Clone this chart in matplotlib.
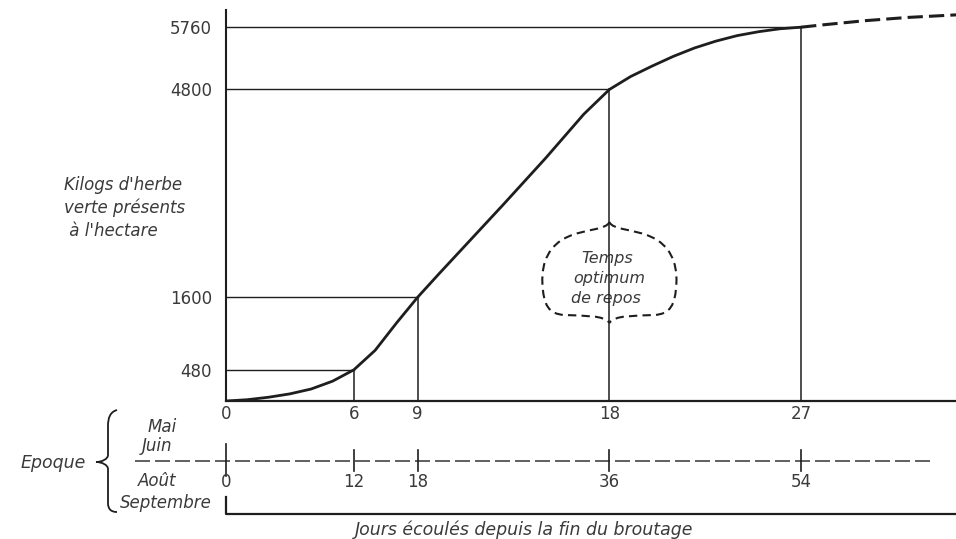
import numpy as np
import matplotlib.pyplot as plt
from matplotlib.path import Path
from matplotlib.patches import PathPatch
from matplotlib import transforms

# values
day_marks = [0, 6, 9, 18, 27]            # Mai / Juin
day_marks_late = [0, 12, 18, 36, 54]     # Aout / Septembre
kg_marks = [480, 1600, 4800, 5760]

curve_days = [0, 1, 2, 3, 4, 5, 6, 7, 8, 9, 10, 13, 15, 16.8, 18,
              19, 20, 21, 22, 23, 24, 25, 26, 27]
curve_kg = [0, 20, 58, 110, 185, 305, 480, 780, 1200, 1600, 1960, 3020, 3740, 4420, 4800,
            5000, 5160, 5310, 5440, 5545, 5630, 5690, 5735, 5760]
trend_days = [27, 28, 30, 32, 34.3]
trend_kg = [5760, 5795, 5860, 5910, 5950]

ink = '#1e1e1e'
txt = '#3a3a3a'
W, H = 956, 539

fig = plt.figure(figsize=(W / 100, H / 100), dpi=100)

# overlay in pixel units for the free-standing annotations
ov = fig.add_axes([0, 0, 1, 1])
ov.set_xlim(0, W)
ov.set_ylim(H, 0)
ov.axis('off')

# main chart area: x from px 226 to right edge, y from baseline (px 401) to top
x0, y0 = 226, 401
px_day, px_kg = 21.3, 0.0649
ax = fig.add_axes([x0 / W, (H - y0) / H, (W - x0) / W, y0 / H])
ax.set_xlim(0, (W - x0) / px_day)
ax.set_ylim(0, y0 / px_kg)
ax.patch.set_alpha(0)
for s in ['top', 'right']:
    ax.spines[s].set_visible(False)
ax.spines['left'].set_bounds(0, 6025)
ax.spines['left'].set_linewidth(1.5)
ax.spines['bottom'].set_linewidth(1.6)
ax.spines['left'].set_color(ink)
ax.spines['bottom'].set_color(ink)

ax.set_yticks(kg_marks)
ax.set_yticklabels([str(k) for k in kg_marks])
ax.set_xticks(day_marks)
ax.set_xticklabels([str(d) for d in day_marks])
ax.tick_params(length=0, labelsize=12, labelcolor=txt)
ax.tick_params(axis='y', pad=10)
ax.tick_params(axis='x', pad=3)

# guide lines
for d, k in zip(day_marks[1:], kg_marks):
    ax.plot([0, d], [k, k], color=ink, lw=1.0)
    ax.plot([d, d], [0, k], color=ink, lw=1.1, zorder=3)

ax.plot(curve_days, curve_kg, color=ink, lw=2.0, solid_capstyle='round', zorder=4)
ax.plot(trend_days, trend_kg, color=ink, lw=2.2, ls=(0, (5, 2)), clip_on=False)

ov.text(64, 208, "Kilogs d'herbe\nverte présents\n à l'hectare", style='italic',
        fontsize=12, color=txt, ha='left', va='center', linespacing=1.3)

# "Temps optimum de repos" bubble around the 18-day line
cx = ov.transData.inverted().transform(ax.transData.transform((18, 0)))[0]
half = [(0, 222), (-3, 230), (-25, 229), (-42, 237),
        (-60, 245), (-68, 262), (-67, 283),
        (-66, 305), (-61, 314), (-45, 315),
        (-25, 316), (-5, 315), (0, 323)]
codes = [Path.MOVETO] + [Path.CURVE4] * 12
for sgn in (-1, 1):
    verts = [(cx + sgn * dx, yy) for dx, yy in half]
    ov.add_patch(PathPatch(Path(verts, codes), fill=False, ec=ink, lw=1.5,
                           ls=(0, (4, 2.5))))
ov.text(cx - 2, 259, 'Temps', style='italic', fontsize=11.5, color=txt, ha='center', va='center')
ov.text(cx, 279, 'optimum', style='italic', fontsize=11.5, color=txt, ha='center', va='center')
ov.text(cx - 3, 299, 'de repos', style='italic', fontsize=11.5, color=txt, ha='center', va='center')

# second time scale (Aout / Septembre) below the chart
blend = transforms.blended_transform_factory(ax.transData, ov.transData)
ov.plot([135, 930], [461, 461], color='#444444', lw=1.2, ls=(0, (9, 3)))
for i, (d, d2) in enumerate(zip(day_marks, day_marks_late)):
    top, bot = (444, 476) if i == 0 else (450, 471)
    ax.plot([d, d], [top, bot], color=ink, lw=1.2, transform=blend, clip_on=False)
    ax.text(d, 482, str(d2), transform=blend, fontsize=12, color=txt,
            ha='center', va='center')

ov.plot([x0, x0, W], [497, 514, 514], color=ink, lw=1.6)
ov.text(524, 530, 'Jours écoulés depuis la fin du broutage', style='italic',
        fontsize=12.5, color=txt, ha='center', va='center')

for s, x, y in [('Mai', 162, 427), ('Juin', 157, 446), ('Août', 157, 481),
                ('Septembre', 166, 503)]:
    ov.text(x, y, s, style='italic', fontsize=12, color=txt, ha='center', va='center')
ov.text(53, 463, 'Epoque', style='italic', fontsize=12.5, color=txt, ha='center', va='center')

brace = [(117, 410), (110, 412), (108, 418), (108, 426),
         (108, 440), (108, 450), (108, 455),
         (108, 459), (102, 462), (96, 462),
         (102, 462), (108, 465), (108, 469),
         (108, 480), (108, 495), (108, 503),
         (108, 509), (111, 512), (117, 512)]
bcodes = [Path.MOVETO] + [Path.CURVE4] * 18
ov.add_patch(PathPatch(Path(brace, bcodes), fill=False, ec=ink, lw=1.3))

fig.savefig('out.png', dpi=100, facecolor='white')
